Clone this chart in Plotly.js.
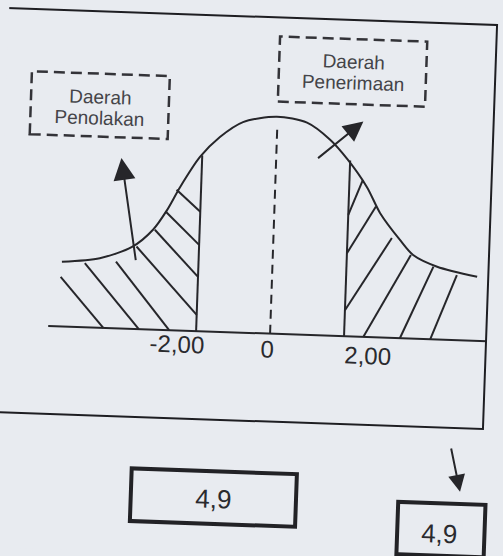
<!DOCTYPE html>
<html>
<head>
<meta charset="utf-8">
<script src="https://cdn.plot.ly/plotly-3.0.1.min.js"></script>
<style>
  html, body { margin: 0; padding: 0; background: #e8ebf0; overflow: hidden; }
  #chart { width: 503px; height: 556px; transform: rotate(2deg); transform-origin: 50% 50%; }
</style>
</head>
<body>
<div id="chart"></div>
<script>
// ---- data ----
const curveZ = [-5.69, -4.67, -3.81, -3.26, -2.90, -2.57, -2.06, -1.54, -0.93, -0.02, 0.80, 1.44, 1.94, 2.48, 2.86, 3.42, 3.79, 4.45, 5.54];
const curveY = [0.119, 0.128, 0.151, 0.184, 0.221, 0.264, 0.321, 0.359, 0.388, 0.400, 0.391, 0.361, 0.325, 0.276, 0.229, 0.181, 0.154, 0.134, 0.118];

const baseZ = [-6.0, 5.86];
const critZ = [-2, 2];
const critTop = [0.324, 0.324];
const centerZ = 0;
const centerTop = 0.381;

const leftHatchZ0 = [-5.71, -5.07, -4.23, -3.69, -3.21, -2.93, -2.66];
const leftHatchY0 = [0.091, 0.118, 0.123, 0.152, 0.184, 0.218, 0.259];
const leftHatchZ1 = [-4.51, -3.55, -2.73, -2.0, -2.0, -2.0, -2.0];
const leftHatchY1 = [0, 0, 0, 0.030, 0.100, 0.159, 0.220];

const rightHatchZ0 = [2.36, 2.74, 3.20, 3.73, 4.35, 4.99];
const rightHatchY0 = [0.289, 0.241, 0.184, 0.154, 0.134, 0.120];
const rightHatchZ1 = [2, 2, 2, 2.52, 3.51, 4.33];
const rightHatchY1 = [0.224, 0.153, 0.048, 0, 0, 0];

const tickVals = [-2, 0, 2];
const tickLabels = ['-2,00', '0', '2,00'];
const regionLine1 = ['Daerah', 'Daerah'];
const regionLine2 = ['Penolakan', 'Penerimaan'];
const valueLabels = ['4,9', '4,9'];

// ---- build ----
const ink = '#26262a';
function segs(z0, y0, z1, y1) {
  const x = [], y = [];
  for (let i = 0; i < z0.length; i++) { x.push(z0[i], z1[i], null); y.push(y0[i], y1[i], null); }
  return {x, y};
}
const lh = segs(leftHatchZ0, leftHatchY0, leftHatchZ1, leftHatchY1);
const rh = segs(rightHatchZ0, rightHatchY0, rightHatchZ1, rightHatchY1);

const lineStyle = {color: ink, width: 2};
const traces = [
  {x: baseZ, y: [0, 0], mode: 'lines', line: lineStyle, hoverinfo: 'skip'},
  {x: curveZ, y: curveY, mode: 'lines', line: {color: ink, width: 2, shape: 'spline', smoothing: 0.8}, hoverinfo: 'skip'},
  {x: [critZ[0], critZ[0]], y: [0, critTop[0]], mode: 'lines', line: lineStyle, hoverinfo: 'skip'},
  {x: [critZ[1], critZ[1]], y: [0, critTop[1]], mode: 'lines', line: lineStyle, hoverinfo: 'skip'},
  {x: [centerZ, centerZ], y: [0, centerTop], mode: 'lines', line: {color: ink, width: 2, dash: '9px,6px'}, hoverinfo: 'skip'},
  {x: lh.x, y: lh.y, mode: 'lines', line: lineStyle, connectgaps: false, hoverinfo: 'skip'},
  {x: rh.x, y: rh.y, mode: 'lines', line: lineStyle, connectgaps: false, hoverinfo: 'skip'}
];

const font = 'Liberation Sans, Arial, sans-serif';
const annotations = [];
const tickAnchor = ['right', 'center', 'left'];
const tickShift = [11, -3, -1];
const tickY = [-0.025, -0.028, -0.034];
tickVals.forEach((v, i) => annotations.push({
  x: v, y: tickY[i], xref: 'x', yref: 'y', text: tickLabels[i], showarrow: false,
  xanchor: tickAnchor[i], yanchor: 'middle', xshift: tickShift[i],
  font: {family: font, size: 24, color: '#2a2a2e'}
}));
const regX = [-4.8, 1.99];
const regY1 = [0.424, 0.506];
const regY2 = [0.386, 0.467];
for (let i = 0; i < 2; i++) {
  annotations.push({x: regX[i], y: regY1[i], xref: 'x', yref: 'y', text: regionLine1[i], showarrow: false,
    font: {family: font, size: 19, color: '#444448'}});
  annotations.push({x: regX[i], y: regY2[i], xref: 'x', yref: 'y', text: regionLine2[i], showarrow: false,
    font: {family: font, size: 19, color: '#444448'}});
}
annotations.push({x: -1.38, y: -0.308, xref: 'x', yref: 'y', text: valueLabels[0], showarrow: false,
  font: {family: font, size: 26, color: '#2a2a2e'}});
annotations.push({x: 4.76, y: -0.357, xref: 'x', yref: 'y', text: valueLabels[1], showarrow: false,
  font: {family: font, size: 26, color: '#2a2a2e'}});
// arrows
const arrow = (x, y, ax, ay, s) => ({x, y, ax, ay, xref: 'x', yref: 'y', axref: 'x', ayref: 'y', text: '',
  showarrow: true, arrowhead: 2, arrowsize: s, arrowwidth: 2, arrowcolor: ink});
annotations.push(arrow(-4.18, 0.314, -3.69, 0.124, 2.2));
annotations.push(arrow(2.32, 0.397, 1.09, 0.324, 2.0));
annotations.push(arrow(5.28, -0.279, 4.99, -0.197, 1.7));

const shapes = [
  {type: 'rect', xref: 'x', yref: 'y', x0: -7.8, x1: 5.84, y0: -0.162, y1: 0.583, line: {color: '#1e1e22', width: 2}},
  {type: 'rect', xref: 'x', yref: 'y', x0: -6.68, x1: -2.95, y0: 0.352, y1: 0.468, line: {color: '#333338', width: 2.5, dash: '11px,6px'}},
  {type: 'rect', xref: 'x', yref: 'y', x0: -0.01, x1: 3.97, y0: 0.428, y1: 0.548, line: {color: '#333338', width: 2.5, dash: '11px,6px'}},
  {type: 'rect', xref: 'x', yref: 'y', x0: -3.61, x1: 0.857, y0: -0.354, y1: -0.257, line: {color: '#222226', width: 4}},
  {type: 'rect', xref: 'x', yref: 'y', x0: 3.62, x1: 5.98, y0: -0.398, y1: -0.3015, line: {color: '#222226', width: 4}}
];

const layout = {
  width: 503, height: 556,
  margin: {l: 0, r: 0, t: 0, b: 0},
  paper_bgcolor: '#e8ebf0', plot_bgcolor: '#e8ebf0',
  showlegend: false,
  xaxis: {range: [-272 / 37, (503 - 272) / 37], visible: false, fixedrange: true},
  yaxis: {range: [-(556 - 333) / 542.6, 333 / 542.6], visible: false, fixedrange: true},
  annotations, shapes
};
Plotly.newPlot('chart', traces, layout, {staticPlot: true, displayModeBar: false});
</script>
</body>
</html>
